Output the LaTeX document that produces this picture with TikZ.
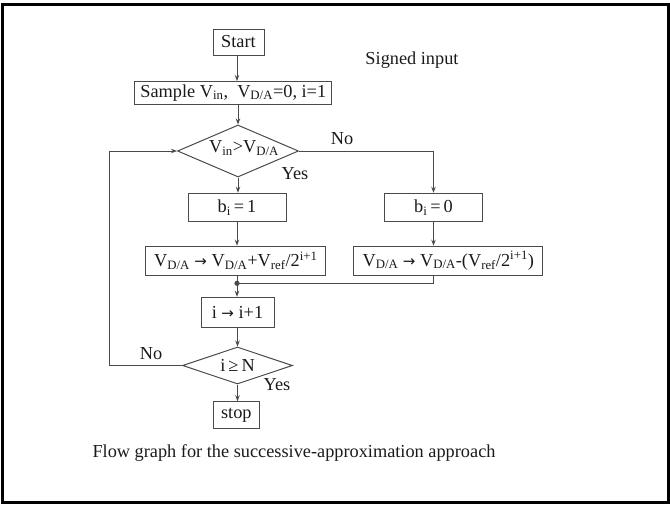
\documentclass[tikz,border=0pt]{standalone}
\usepackage{fontspec}
\setmainfont{Liberation Serif}
\newfontfamily\arrowfont{DejaVu Sans}
\usetikzlibrary{shapes.geometric,arrows.meta,calc}
\definecolor{ln}{HTML}{4A4A4A}
\definecolor{tx}{HTML}{1A1A1A}
\newcommand\sbs[1]{\textsubscript{#1}}
\newcommand\sps[1]{\textsuperscript{#1}}
\newcommand\arr{{\arrowfont\fontsize{15}{18}\selectfont →}}
\begin{document}
\begin{tikzpicture}[x=1pt,y=-1pt,
  every node/.style={text=tx,font=\fontsize{18.3}{21}\selectfont},
  box/.style={draw=ln,line width=1pt,inner sep=0pt,rectangle},
  dia/.style={draw=ln,line width=1pt,inner sep=0pt,diamond,aspect=2.3},
  flow/.style={draw=ln,line width=1pt,-{Stealth[length=6pt,width=4.5pt]}},
  wire/.style={draw=ln,line width=1pt},
  lbl/.style={inner sep=0pt}]
\useasboundingbox (0,0) rectangle (670,504);
\draw[line width=3pt,black] (2,4) rectangle (668,502);

\node[box,minimum width=51pt,minimum height=26pt] (start) at (238.5,42) {Start};
\node[lbl] (signed) at (412,60) {Signed input};
\node[box,minimum width=197pt,minimum height=23pt] (sample) at (233.3,93)
  {Sample V\sbs{in}, \ V\sbs{D/A}=0, i=1};
\node[dia,minimum width=121pt,minimum height=52pt] (d1) at (238,151) {};
\node[lbl] (d1t) at (244,148) {V\sbs{in}>V\sbs{D/A}};
\node[box,minimum width=98pt,minimum height=28.5pt] (b1) at (237,207.5) {b\sbs{i}\,=\,1};
\node[box,minimum width=98pt,minimum height=28.5pt] (b0) at (433.5,207.5) {b\sbs{i}\,=\,0};
\node[box,minimum width=180pt,minimum height=29pt] (v1) at (235.8,260.7)
  {V\sbs{D/A} \arr{} V\sbs{D/A}+V\sbs{ref}/2\sps{i+1}};
\node[box,minimum width=189pt,minimum height=29pt] (v0) at (448.3,260.7)
  {V\sbs{D/A} \arr{} V\sbs{D/A}-(V\sbs{ref}/2\sps{i+1})};
\coordinate (j) at (237,283.3);
\node[box,minimum width=73pt,minimum height=30pt] (inc) at (237.5,312.3) {i \arr{} i+1};
\node[dia,minimum width=110pt,minimum height=37pt] (d2) at (237.5,365.5) {i\,≥\,N};
\node[box,minimum width=46pt,minimum height=26.5pt] (stop) at (236.3,415) {stop};
\node[lbl] (caption) at (294,453) {Flow graph for the successive-approximation approach};

\node[lbl] (no1) at (342,139) {No};
\node[lbl] (yes1) at (295,174) {Yes};
\node[lbl] (no2) at (151,354) {No};
\node[lbl] (yes2) at (277,385) {Yes};

\path[flow] (start.south -| 237,0) -- (237,0 |- sample.north);
\path[flow] (d1.north |- sample.south) -- (d1.north);
\path[flow] (d1.south) -- (d1.south |- b1.north);
\path[flow] (d1.east) -| (b0.north);
\path[flow] (b1.south) -- (b1.south |- v1.north);
\path[flow] (b0.south) -- (b0.south |- v0.north);
\path[wire] (b0.south |- v0.south) |- (j);
\path[wire] (j |- v1.south) -- (j);
\fill[ln] (j) circle (2.6pt);
\path[flow] (j) -- (j |- inc.north);
\path[flow] (inc.south -| d2.north) -- (d2.north);
\path[flow] (d2.south) -- (d2.south |- stop.north);
\coordinate (lp2) at (109,0 |- d2.west);
\coordinate (lp1) at (109,0 |- d1.west);
\path[flow] (d2.west) -- (lp2) -- (lp1) -- (d1.west);
\end{tikzpicture}
\end{document}
